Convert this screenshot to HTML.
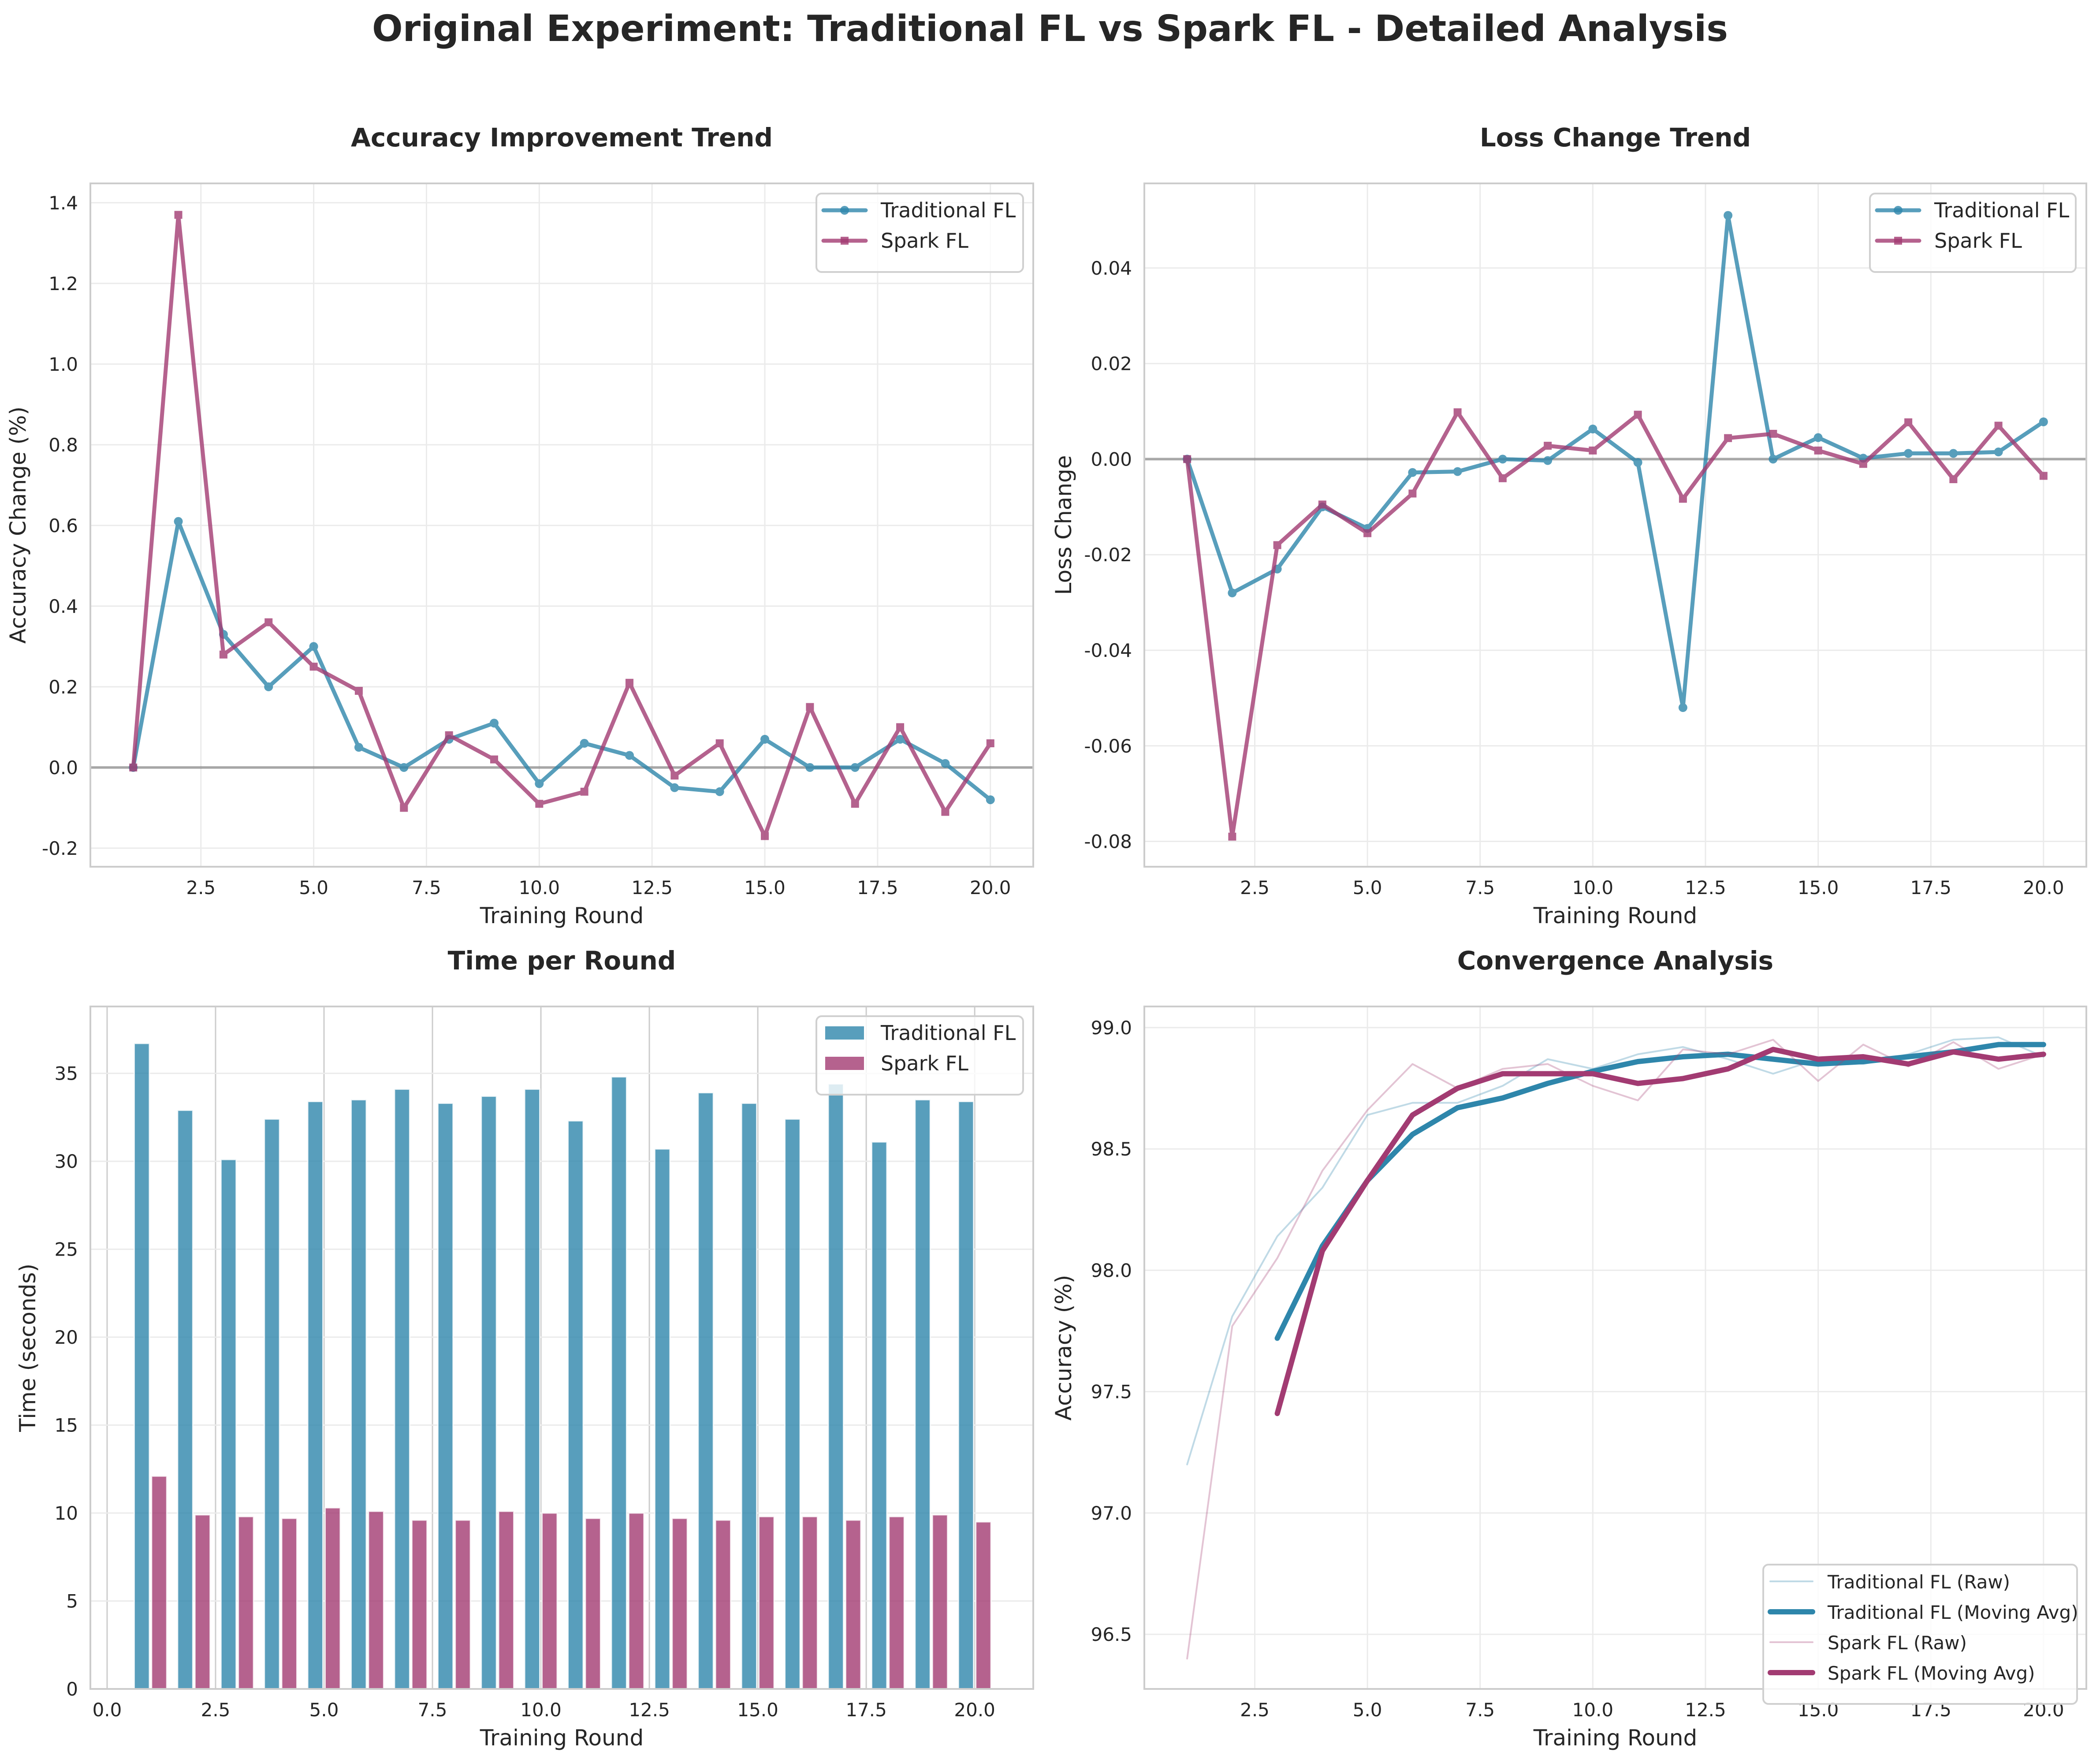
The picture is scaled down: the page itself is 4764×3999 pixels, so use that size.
<!DOCTYPE html>
<html><head><meta charset="utf-8"><title>Traditional FL vs Spark FL</title>
<style>
html,body{margin:0;padding:0;background:#fff;}
svg{display:block;font-family:"DejaVu Sans","Liberation Sans",sans-serif;}
</style></head>
<body>
<svg id="fig" xmlns="http://www.w3.org/2000/svg" width="4764" height="3999" viewBox="0 0 4764 3999">
<rect width="4764" height="3999" fill="#fff"/>
<text x="2382" y="93" text-anchor="middle" font-size="82" font-weight="bold" fill="#262626">Original Experiment: Traditional FL vs Spark FL - Detailed Analysis</text>
</svg>
<script>
const rounds = [1,2,3,4,5,6,7,8,9,10,11,12,13,14,15,16,17,18,19,20];
const accTrad = [0,0.61,0.33,0.20,0.30,0.05,0.00,0.07,0.11,-0.04,0.06,0.03,-0.05,-0.06,0.07,0.00,0.00,0.07,0.01,-0.08];
const accSpark = [0,1.37,0.28,0.36,0.25,0.19,-0.10,0.08,0.02,-0.09,-0.06,0.21,-0.02,0.06,-0.17,0.15,-0.09,0.10,-0.11,0.06];
const lossTrad = [0,-0.028,-0.023,-0.010,-0.0145,-0.0028,-0.0026,0,-0.0003,0.0063,-0.0007,-0.052,0.051,0,0.0045,0.0002,0.0012,0.0012,0.0015,0.0078];
const lossSpark = [0,-0.079,-0.018,-0.0095,-0.0155,-0.0072,0.0098,-0.004,0.0028,0.0018,0.0093,-0.0083,0.0044,0.0053,0.0018,-0.0010,0.0077,-0.0042,0.0070,-0.0035];
const timeTrad = [36.7,32.9,30.1,32.4,33.4,33.5,34.1,33.3,33.7,34.1,32.3,34.8,30.7,33.9,33.3,32.4,34.4,31.1,33.5,33.4];
const timeSpark = [12.1,9.9,9.8,9.7,10.3,10.1,9.6,9.6,10.1,10.0,9.7,10.0,9.7,9.6,9.8,9.8,9.6,9.8,9.9,9.5];
const rawTrad = [97.2,97.81,98.14,98.34,98.64,98.69,98.69,98.76,98.87,98.83,98.89,98.92,98.87,98.81,98.87,98.85,98.89,98.95,98.96,98.88];
const rawSpark = [96.4,97.77,98.05,98.41,98.66,98.85,98.75,98.83,98.85,98.76,98.70,98.91,98.89,98.95,98.78,98.93,98.84,98.94,98.83,98.89];
const maRounds = [3,4,5,6,7,8,9,10,11,12,13,14,15,16,17,18,19,20];
const maTrad = [97.72,98.10,98.37,98.56,98.67,98.71,98.77,98.82,98.86,98.88,98.89,98.87,98.85,98.86,98.88,98.90,98.93,98.93];
const maSpark = [97.41,98.08,98.37,98.64,98.75,98.81,98.81,98.81,98.77,98.79,98.83,98.91,98.87,98.88,98.85,98.90,98.87,98.89];
const xTicksRound = [2.5,5.0,7.5,10.0,12.5,15.0,17.5,20.0];
const xTicksBar = [0.0,2.5,5.0,7.5,10.0,12.5,15.0,17.5,20.0];
const yTicksAcc = [-0.2,0.0,0.2,0.4,0.6,0.8,1.0,1.2,1.4];
const yTicksLoss = [-0.08,-0.06,-0.04,-0.02,0.00,0.02,0.04];
const yTicksTime = [0,5,10,15,20,25,30,35];
const yTicksConv = [96.5,97.0,97.5,98.0,98.5,99.0];

const NS = 'http://www.w3.org/2000/svg';
const svg = document.getElementById('fig');
const TRAD = '#2E86AB', SPARK = '#A23B72', TXT = '#262626';
function mk(tag, attrs, parent){
  const e = document.createElementNS(NS, tag);
  for (const k in attrs) e.setAttribute(k, attrs[k]);
  (parent||svg).appendChild(e);
  return e;
}
function txt(s, attrs, parent){ const t = mk('text', attrs, parent); t.textContent = s; return t; }

function makeAxes(name, L, R, T, B, x0, x1, y0, y1){
  const g = mk('g', {});
  
  
  const sx = v => L + (v - x0) / (x1 - x0) * (R - L);
  const sy = v => B - (v - y0) / (y1 - y0) * (B - T);
  return {g, sx, sy, L, R, T, B};
}
function grid(ax, xt, yt, xfmt, yfmt, vColor){
  const gg = mk('g', {}, ax.g);
  
  
  xt.forEach(v => mk('line', {x1: ax.sx(v), x2: ax.sx(v), y1: ax.T, y2: ax.B, stroke: vColor || '#ebebeb', 'stroke-width': 3}, gg));
  yt.forEach(v => mk('line', {x1: ax.L, x2: ax.R, y1: ax.sy(v), y2: ax.sy(v), stroke: '#ebebeb', 'stroke-width': 3}, gg));
}
function frameTicks(ax, xt, yt, xfmt, yfmt, xlabel, ylabel, ylabX, title){
  mk('rect', {x: ax.L, y: ax.T, width: ax.R - ax.L, height: ax.B - ax.T, fill: 'none', stroke: '#cccccc', 'stroke-width': 4}, ax.g);
  xt.forEach(v => {
    const t = txt(xfmt(v), {x: ax.sx(v), y: ax.B + 62, 'text-anchor': 'middle', 'font-size': 42, fill: TXT}, ax.g);
    
    
  });
  yt.forEach(v => {
    const t = txt(yfmt(v), {x: ax.L - 28, y: ax.sy(v) + 15, 'text-anchor': 'end', 'font-size': 42, fill: TXT}, ax.g);
    
    
  });
  const xl = txt(xlabel, {x: (ax.L + ax.R) / 2, y: ax.B + 128, 'text-anchor': 'middle', 'font-size': 50, fill: TXT}, ax.g);
  
  
  const cy = (ax.T + ax.B) / 2;
  const yl = txt(ylabel, {x: ylabX, y: cy, 'text-anchor': 'middle', 'font-size': 50, fill: TXT, transform: 'rotate(-90 ' + ylabX + ' ' + cy + ')'}, ax.g);
  
  
  const tt = txt(title, {x: (ax.L + ax.R) / 2, y: ax.T - 84, 'text-anchor': 'middle', 'font-size': 58, 'font-weight': 'bold', fill: TXT}, ax.g);
  
  
}
function series(ax, xs, ys, color, width, opacity, marker, name){
  const g = mk('g', {opacity: opacity}, ax.g);
  
  
  const pts = xs.map((x, i) => ax.sx(x).toFixed(1) + ',' + ax.sy(ys[i]).toFixed(1)).join(' ');
  mk('polyline', {points: pts, fill: 'none', stroke: color, 'stroke-width': width, 'stroke-linejoin': 'round', 'stroke-linecap': 'round'}, g);
  xs.forEach((x, i) => {
    let m = null;
    if (marker === 'o') m = mk('circle', {cx: ax.sx(x), cy: ax.sy(ys[i]), r: 10, fill: color}, g);
    else if (marker === 's') m = mk('rect', {x: ax.sx(x) - 9, y: ax.sy(ys[i]) - 9, width: 18, height: 18, fill: color}, g);
    if (m) {
      
      
    }
  });
}
function zeroLine(ax){
  const l = mk('line', {x1: ax.L, x2: ax.R, y1: ax.sy(0), y2: ax.sy(0), stroke: '#000', 'stroke-opacity': 0.3, 'stroke-width': 6}, ax.g);
  
  
}
function legend(ax, x, y, w, items){
  const g = mk('g', {}, ax.g);
  
  
  const h = 40 + items.length * 69;
  mk('rect', {x: x, y: y, width: w, height: h, rx: 12, fill: '#fff', 'fill-opacity': 0.8, stroke: '#d0d0d0', 'stroke-width': 4}, g);
  items.forEach((it, i) => {
    const cy = y + 38 + i * 69;
    const e = mk('g', {}, g);
    
    
    if (it.type === 'bar') {
      mk('rect', {x: x + 19, y: cy - 16, width: 90, height: 32, fill: it.color, 'fill-opacity': 0.8, stroke: '#fff', 'stroke-width': 2}, e);
    } else {
      mk('line', {x1: x + 16, x2: x + 112, y1: cy, y2: cy, stroke: it.color, 'stroke-width': it.w, 'stroke-opacity': it.op, 'stroke-linecap': 'round'}, e);
      if (it.marker === 'o') mk('circle', {cx: x + 64, cy: cy, r: 10, fill: it.color, 'fill-opacity': it.op}, e);
      if (it.marker === 's') mk('rect', {x: x + 55, y: cy - 9, width: 18, height: 18, fill: it.color, 'fill-opacity': it.op}, e);
    }
    txt(it.label, {x: x + 146, y: cy + 16, 'font-size': it.fs || 46, fill: TXT}, e);
  });
}
const f1 = v => v.toFixed(1), f2 = v => v.toFixed(2), f0 = v => String(v);

// Panel 1
const a1 = makeAxes('accuracy-improvement-chart', 205, 2344, 416, 1966, 0.05, 20.95, -0.246, 1.448);
grid(a1, xTicksRound, yTicksAcc);
zeroLine(a1);
series(a1, rounds, accTrad, TRAD, 9, 0.8, 'o', 'traditional-fl-line');
series(a1, rounds, accSpark, SPARK, 9, 0.8, 's', 'spark-fl-line');
frameTicks(a1, xTicksRound, yTicksAcc, f1, f1, 'Training Round', 'Accuracy Change (%)', 58, 'Accuracy Improvement Trend');
legend(a1, 1852, 439, 469, [{label: 'Traditional FL', color: TRAD, w: 9, op: 0.8, marker: 'o'}, {label: 'Spark FL', color: SPARK, w: 9, op: 0.8, marker: 's'}]);

// Panel 2
const a2 = makeAxes('loss-change-chart', 2596, 4733, 416, 1966, 0.05, 20.95, -0.0853, 0.0577);
grid(a2, xTicksRound, yTicksLoss);
zeroLine(a2);
series(a2, rounds, lossTrad, TRAD, 9, 0.8, 'o', 'traditional-fl-line');
series(a2, rounds, lossSpark, SPARK, 9, 0.8, 's', 'spark-fl-line');
frameTicks(a2, xTicksRound, yTicksLoss, f1, f2, 'Training Round', 'Loss Change', 2430, 'Loss Change Trend');
legend(a2, 4242, 439, 467, [{label: 'Traditional FL', color: TRAD, w: 9, op: 0.8, marker: 'o'}, {label: 'Spark FL', color: SPARK, w: 9, op: 0.8, marker: 's'}]);

// Panel 3
const a3 = makeAxes('time-per-round-chart', 205, 2344, 2283, 3831, -0.386, 21.35, 0, 38.8);
grid(a3, xTicksBar, yTicksTime, null, null, '#cccccc');
const bw = 0.35;
rounds.forEach((r, i) => {
  const b1 = mk('rect', {x: a3.sx(r - 0.2 - bw / 2), y: a3.sy(timeTrad[i]), width: a3.sx(bw) - a3.sx(0), height: a3.sy(0) - a3.sy(timeTrad[i]), fill: TRAD, 'fill-opacity': 0.8, stroke: '#fff', 'stroke-opacity': 0.8, 'stroke-width': 3}, a3.g);
  
  
  const b2 = mk('rect', {x: a3.sx(r + 0.2 - bw / 2), y: a3.sy(timeSpark[i]), width: a3.sx(bw) - a3.sx(0), height: a3.sy(0) - a3.sy(timeSpark[i]), fill: SPARK, 'fill-opacity': 0.8, stroke: '#fff', 'stroke-opacity': 0.8, 'stroke-width': 3}, a3.g);
  
  
});
frameTicks(a3, xTicksBar, yTicksTime, f1, f0, 'Training Round', 'Time (seconds)', 80, 'Time per Round');
legend(a3, 1852, 2305, 469, [{label: 'Traditional FL', color: TRAD, type: 'bar'}, {label: 'Spark FL', color: SPARK, type: 'bar'}]);

// Panel 4
const a4 = makeAxes('convergence-analysis-chart', 2596, 4733, 2283, 3831, 0.05, 20.95, 96.275, 99.087);
grid(a4, xTicksRound, yTicksConv);
series(a4, rounds, rawTrad, TRAD, 4, 0.3, null, 'traditional-fl-raw-line');
series(a4, maRounds, maTrad, TRAD, 12, 1, null, 'traditional-fl-moving-avg-line');
series(a4, rounds, rawSpark, SPARK, 4, 0.3, null, 'spark-fl-raw-line');
series(a4, maRounds, maSpark, SPARK, 12, 1, null, 'spark-fl-moving-avg-line');
frameTicks(a4, xTicksRound, yTicksConv, f1, f1, 'Training Round', 'Accuracy (%)', 2430, 'Convergence Analysis');
legend(a4, 4000, 3549, 712, [
  {label: 'Traditional FL (Raw)', color: TRAD, w: 4, op: 0.3, fs: 42},
  {label: 'Traditional FL (Moving Avg)', color: TRAD, w: 12, op: 1, fs: 42},
  {label: 'Spark FL (Raw)', color: SPARK, w: 4, op: 0.3, fs: 42},
  {label: 'Spark FL (Moving Avg)', color: SPARK, w: 12, op: 1, fs: 42}
]);
</script>
</body></html>
